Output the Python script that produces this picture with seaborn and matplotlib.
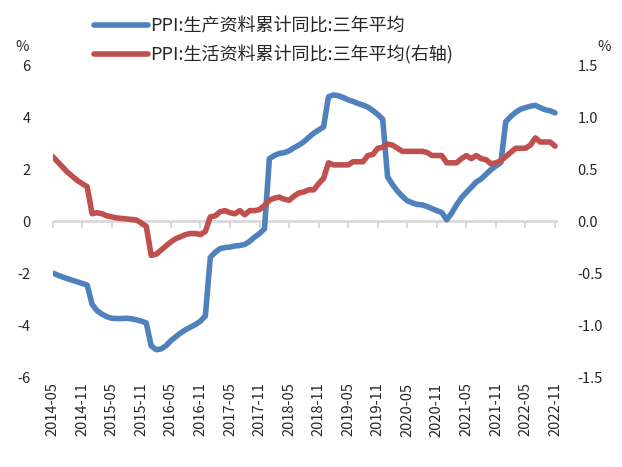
import numpy as np
import pandas as pd
import matplotlib
matplotlib.use("Agg")
import matplotlib.pyplot as plt
import seaborn as sns

# monthly data, 2014-05 .. 2022-11
blue = [-2.00, -2.08, -2.15, -2.22, -2.28, -2.34, -2.40, -2.46, -3.20, -3.45,
        -3.58, -3.68, -3.74, -3.75, -3.75, -3.74, -3.76, -3.80, -3.85, -3.92,
        -4.80, -4.95, -4.92, -4.80, -4.60, -4.45, -4.30, -4.18, -4.08, -3.98,
        -3.85, -3.65, -1.40, -1.20, -1.06, -1.02, -1.00, -0.96, -0.94, -0.90,
        -0.78, -0.62, -0.48, -0.30, 2.40, 2.52, 2.60, 2.63, 2.70, 2.82,
        2.92, 3.05, 3.22, 3.38, 3.50, 3.62, 4.78, 4.85, 4.82, 4.75,
        4.66, 4.60, 4.52, 4.46, 4.38, 4.25, 4.10, 3.92, 1.70, 1.40,
        1.15, 0.95, 0.78, 0.70, 0.64, 0.62, 0.56, 0.48, 0.40, 0.33,
        0.05, 0.30, 0.62, 0.90, 1.10, 1.30, 1.50, 1.62, 1.80, 1.98,
        2.12, 2.25, 3.82, 4.02, 4.18, 4.30, 4.36, 4.42, 4.45, 4.36,
        4.28, 4.24, 4.16]

red = [0.62, 0.57, 0.52, 0.47, 0.43, 0.39, 0.36, 0.33, 0.07, 0.08,
       0.07, 0.05, 0.04, 0.03, 0.025, 0.02, 0.015, 0.01, -0.02, -0.05,
       -0.33, -0.32, -0.28, -0.24, -0.20, -0.17, -0.15, -0.13, -0.12, -0.12,
       -0.13, -0.10, 0.04, 0.05, 0.09, 0.10, 0.08, 0.07, 0.10, 0.06,
       0.10, 0.10, 0.11, 0.15, 0.20, 0.22, 0.23, 0.21, 0.20, 0.24,
       0.27, 0.28, 0.30, 0.30, 0.36, 0.41, 0.56, 0.54, 0.54, 0.54,
       0.54, 0.57, 0.57, 0.57, 0.63, 0.64, 0.70, 0.71, 0.74, 0.73,
       0.70, 0.67, 0.67, 0.67, 0.67, 0.67, 0.66, 0.63, 0.63, 0.63,
       0.56, 0.56, 0.56, 0.60, 0.63, 0.60, 0.63, 0.60, 0.59, 0.55,
       0.56, 0.58, 0.62, 0.66, 0.70, 0.70, 0.70, 0.73, 0.80, 0.76,
       0.76, 0.76, 0.72]

tick_labels = ["2014-05", "2014-11", "2015-05", "2015-11", "2016-05", "2016-11",
               "2017-05", "2017-11", "2018-05", "2018-11", "2019-05", "2019-11",
               "2020-05", "2020-11", "2021-05", "2021-11", "2022-05", "2022-11"]

name_blue = "PPI:生产资料累计同比:三年平均"
name_red = "PPI:生活资料累计同比:三年平均(右轴)"

df = pd.DataFrame({"i": np.arange(len(blue)), "blue": blue, "red": red})

sns.set_style("white")
plt.rcParams["font.family"] = ["Noto Sans CJK SC", "DejaVu Sans"]
plt.rcParams["axes.unicode_minus"] = False

fig = plt.figure(figsize=(6.22, 4.67), dpi=100)
ax = fig.add_axes([0.0847, 0.1927, 0.8124, 0.668])
ax2 = ax.twinx()

c_blue = "#4F81BD"
c_red = "#C0504D"
grey = "#D9D9D9"

# zero line
ax.axhline(0, color=grey, linewidth=2, zorder=0)

sns.lineplot(data=df, x="i", y="blue", ax=ax, color=c_blue, linewidth=4, label=name_blue, legend=False)
sns.lineplot(data=df, x="i", y="red", ax=ax2, color=c_red, linewidth=4, label=name_red, legend=False)

ax.set_xlim(0, 102.6)
ax.set_ylim(-6, 6)
ax2.set_ylim(-1.5, 1.5)
ax.set_yticks(np.arange(-6, 7, 2))
ax2.set_yticks(np.arange(-1.5, 1.6, 0.5))
ax2.set_yticklabels([f"{v:.1f}" for v in np.arange(-1.5, 1.6, 0.5)])

ax.set_xticks(np.arange(0, len(blue), 6))
ax.set_xticklabels(tick_labels, rotation=90)
ax.tick_params(axis="x", length=0, pad=4, labelsize=10.5)
ax.tick_params(axis="y", length=0, pad=16, labelsize=10.5)
ax2.tick_params(axis="y", length=0, pad=14, labelsize=10.5)
ax.set_xlabel("")
ax.set_ylabel("")
ax2.set_ylabel("")

for a in (ax, ax2):
    for s in a.spines.values():
        s.set_visible(False)

# tick marks hanging from the zero line
sec = ax.secondary_xaxis(0.5)
sec.set_xticks(np.arange(0, len(blue), 6))
sec.tick_params(axis="x", direction="out", length=5, width=1.5, color=grey,
                labelbottom=False, labeltop=False, bottom=True, top=False)
for s in sec.spines.values():
    s.set_visible(False)

fig.text(22 / 622, 1 - 47 / 467, "%", fontsize=10.5, ha="center", va="center")
fig.text(604 / 622, 1 - 47 / 467, "%", fontsize=10.5, ha="center", va="center")

h1, l1 = ax.get_legend_handles_labels()
h2, l2 = ax2.get_legend_handles_labels()
fig.legend(h1 + h2, l1 + l2, loc="upper left", bbox_to_anchor=(0.14, 0.978),
           frameon=False, fontsize=13, handlelength=3.0, handletextpad=0.1,
           labelspacing=0.55, borderaxespad=0)

fig.savefig("out.png", dpi=100)
